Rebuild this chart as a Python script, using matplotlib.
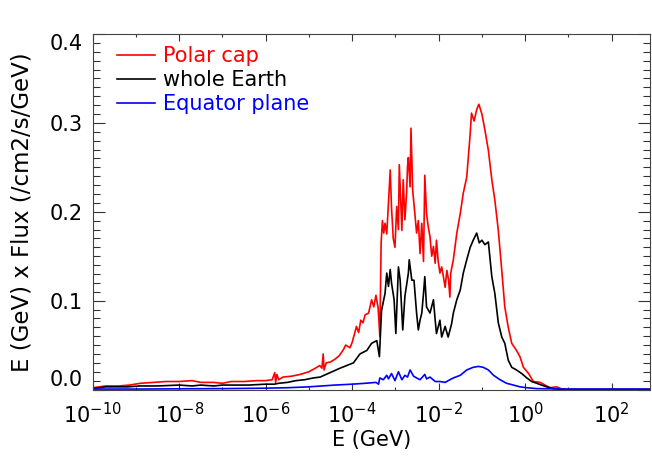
import numpy as np
import matplotlib
matplotlib.use('Agg')
import matplotlib.pyplot as plt
from matplotlib.ticker import NullFormatter

# log10(E/GeV) and E x Flux
polar_logE = [-10.0, -9.7, -9.4, -9.15, -8.9, -8.6, -8.3, -8.0, -7.7, -7.5,
              -7.2, -7.0, -6.8, -6.5, -6.2, -6.0, -5.85, -5.79, -5.77, -5.74,
              -5.70, -5.6, -5.4, -5.2, -5.0, -4.85, -4.75, -4.70, -4.67, -4.65,
              -4.60, -4.50, -4.40, -4.30, -4.20, -4.15, -4.05, -4.00, -3.95, -3.90,
              -3.85, -3.80, -3.75, -3.70, -3.62, -3.55, -3.50, -3.45, -3.40, -3.36,
              -3.33, -3.30, -3.27, -3.24, -3.20, -3.16, -3.12, -3.09, -3.05, -3.01,
              -2.97, -2.93, -2.91, -2.85, -2.82, -2.78, -2.74, -2.72, -2.70, -2.66,
              -2.64, -2.60, -2.55, -2.51, -2.47, -2.43, -2.39, -2.35, -2.32, -2.28,
              -2.24, -2.20, -2.16, -2.12, -2.08, -2.05, -2.01, -1.97, -1.93, -1.89,
              -1.85, -1.81, -1.77, -1.74, -1.72, -1.66, -1.58, -1.50, -1.43, -1.35,
              -1.27, -1.24, -1.18, -1.12, -1.07, -1.00, -0.93, -0.85, -0.77, -0.70,
              -0.62, -0.54, -0.47, -0.39, -0.31, -0.20, -0.12, -0.04, 0.08, 0.19,
              0.35, 0.46, 0.58, 0.73, 0.88, 1.2, 2.9]
polar_flux = [0.002, 0.004, 0.004, 0.005, 0.007, 0.008, 0.009, 0.009, 0.010, 0.008,
              0.008, 0.007, 0.009, 0.009, 0.010, 0.010, 0.011, 0.019, 0.008, 0.017,
              0.011, 0.014, 0.015, 0.017, 0.020, 0.024, 0.027, 0.024, 0.040, 0.022,
              0.030, 0.031, 0.034, 0.038, 0.045, 0.050, 0.047, 0.053, 0.062, 0.071,
              0.064, 0.078, 0.075, 0.084, 0.086, 0.101, 0.093, 0.106, 0.092, 0.060,
              0.165, 0.190, 0.176, 0.187, 0.175, 0.210, 0.247, 0.205, 0.170, 0.160,
              0.206, 0.180, 0.253, 0.179, 0.236, 0.191, 0.222, 0.251, 0.261, 0.228,
              0.294, 0.224, 0.198, 0.176, 0.190, 0.153, 0.187, 0.144, 0.241, 0.198,
              0.183, 0.172, 0.150, 0.161, 0.142, 0.168, 0.144, 0.131, 0.138, 0.127,
              0.115, 0.134, 0.123, 0.104, 0.131, 0.146, 0.176, 0.198, 0.221, 0.239,
              0.288, 0.311, 0.302, 0.315, 0.321, 0.310, 0.292, 0.269, 0.236, 0.213,
              0.179, 0.134, 0.093, 0.070, 0.052, 0.044, 0.037, 0.025, 0.018, 0.009,
              0.008, 0.005, 0.002, 0.003, 0.0, 0.0, 0.0]

earth_logE = [-10.0, -9.7, -9.2, -8.9, -8.5, -8.0, -7.7, -7.5, -7.2, -7.0,
              -6.7, -6.4, -6.0, -5.8, -5.7, -5.5, -5.3, -5.1, -4.9, -4.74,
              -4.51, -4.28, -3.97, -3.82, -3.66, -3.55, -3.43, -3.37, -3.32, -3.24,
              -3.20, -3.16, -3.12, -3.09, -3.03, -2.99, -2.93, -2.89, -2.83, -2.78,
              -2.70, -2.68, -2.62, -2.57, -2.51, -2.47, -2.43, -2.39, -2.35, -2.32,
              -2.28, -2.20, -2.12, -2.08, -2.05, -1.97, -1.93, -1.85, -1.78, -1.70,
              -1.66, -1.58, -1.50, -1.43, -1.35, -1.27, -1.20, -1.12, -1.06, -1.00,
              -0.93, -0.85, -0.77, -0.70, -0.62, -0.54, -0.47, -0.39, -0.31, -0.20,
              -0.08, 0.04, 0.15, 0.27, 0.38, 0.50, 0.65, 0.81, 2.9]
earth_flux = [0.001, 0.003, 0.003, 0.004, 0.004, 0.005, 0.004, 0.005, 0.004, 0.005,
              0.005, 0.005, 0.006, 0.006, 0.007, 0.008, 0.010, 0.011, 0.013, 0.014,
              0.019, 0.024, 0.030, 0.040, 0.044, 0.052, 0.055, 0.037, 0.089, 0.108,
              0.131, 0.116, 0.135, 0.120, 0.101, 0.063, 0.138, 0.123, 0.067, 0.105,
              0.131, 0.146, 0.123, 0.123, 0.086, 0.067, 0.078, 0.086, 0.108, 0.127,
              0.093, 0.086, 0.101, 0.078, 0.063, 0.078, 0.059, 0.071, 0.059, 0.074,
              0.086, 0.101, 0.112, 0.131, 0.146, 0.160, 0.168, 0.176, 0.165, 0.168,
              0.163, 0.166, 0.127, 0.108, 0.075, 0.059, 0.052, 0.033, 0.025, 0.022,
              0.018, 0.013, 0.009, 0.007, 0.005, 0.003, 0.001, 0.0, 0.0]

equator_logE = [-10.0, -9.0, -8.0, -7.0, -6.0, -5.5, -5.0, -4.7, -4.4, -4.0,
                -3.7, -3.45, -3.39, -3.36, -3.28, -3.20, -3.16, -3.09, -3.01, -2.93,
                -2.85, -2.78, -2.72, -2.66, -2.58, -2.51, -2.43, -2.32, -2.28, -2.20,
                -2.08, -1.97, -1.85, -1.74, -1.66, -1.50, -1.35, -1.20, -1.08, -0.97,
                -0.85, -0.73, -0.58, -0.43, -0.27, -0.12, 0.04, 0.27, 1.0, 2.9]
equator_flux = [0.0005, 0.0005, 0.0008, 0.001, 0.0015, 0.002, 0.003, 0.004, 0.005, 0.006,
                0.007, 0.008, 0.006, 0.013, 0.011, 0.016, 0.012, 0.018, 0.010, 0.020,
                0.011, 0.016, 0.014, 0.022, 0.015, 0.013, 0.011, 0.017, 0.012, 0.014,
                0.009, 0.009, 0.008, 0.011, 0.013, 0.016, 0.022, 0.025, 0.026, 0.025,
                0.022, 0.016, 0.011, 0.007, 0.005, 0.003, 0.002, 0.001, 0.0005, 0.0005]

labels = ['Polar cap', 'whole Earth', 'Equator plane']
colors = ['red', 'black', 'blue']
xmajor = [-10, -8, -6, -4, -2, 0, 2]
xminor = [-9, -7, -5, -3, -1, 1]
yticks = [0.0, 0.1, 0.2, 0.3, 0.4]

plt.rcParams['font.family'] = 'DejaVu Sans'
fs = 15

fig = plt.figure(figsize=(6.52, 4.62), dpi=100)
ax = fig.add_axes([0.1422, 0.1569, 0.8548, 0.7695])

series = [(polar_logE, polar_flux), (earth_logE, earth_flux), (equator_logE, equator_flux)]
for (lE, fl), lab, c in zip(series, labels, colors):
    ax.plot(10.0 ** np.array(lE), fl, color=c, lw=1.2, label=lab)

ax.set_xscale('log')
ax.set_xlim(1e-10, 10 ** 2.889)
ax.set_ylim(0, 0.4)

ax.set_xticks([10.0 ** k for k in xmajor])
ax.set_xticks([10.0 ** k for k in xminor], minor=True)
ax.xaxis.set_minor_formatter(NullFormatter())
ax.set_yticks(yticks)
ax.set_yticklabels(['%.1f' % v for v in yticks])
ax.set_yticks(np.arange(0, 0.401, 0.01), minor=True)

ax.tick_params(axis='both', which='both', direction='in', top=True, right=True,
               colors='#333333', width=0.8, labelsize=fs, labelcolor='black')
ax.tick_params(axis='x', which='major', length=5, pad=9)
ax.tick_params(axis='x', which='minor', length=2.5)
ax.tick_params(axis='y', which='major', length=8.5, pad=7)
ax.tick_params(axis='y', which='minor', length=5)
for sp in ax.spines.values():
    sp.set_color('#444444')
    sp.set_linewidth(0.8)

# IDL keeps the end labels inside the axis
ylabs = ax.get_yticklabels()
ylabs[0].set_va('bottom')
ylabs[-1].set_va('top')

ax.set_xlabel('E (GeV)', fontsize=fs)
ax.xaxis.set_label_coords(0.5, -0.114)
ax.set_ylabel('E (GeV) x Flux (/cm2/s/GeV)', fontsize=16.5)
ax.yaxis.set_label_coords(-0.107, 0.5)

ax.legend(loc='upper left', bbox_to_anchor=(0.0436, 0.966), frameon=False,
          fontsize=fs, handlelength=1.8, handletextpad=0.4, labelspacing=0.2,
          borderpad=0, borderaxespad=0, labelcolor='linecolor')

plt.savefig('out.png', dpi=100, facecolor='white')
